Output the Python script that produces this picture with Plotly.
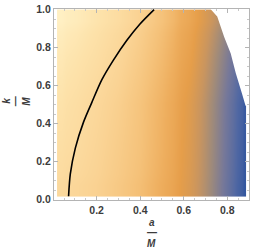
import plotly.graph_objects as go

# ---- density field (colour level, 1 = lightest, 0 = deep blue)
a_grid = [0.018, 0.1, 0.2, 0.3, 0.4, 0.5, 0.6, 0.65, 0.7, 0.75, 0.8, 0.85, 0.885]
k_grid = [0.018, 0.25, 0.5, 0.75, 1.0]
level_k000 = [0.84, 0.82, 0.79, 0.74, 0.68, 0.59, 0.49, 0.42, 0.34, 0.25, 0.16, 0.07, 0.00]
level_k025 = [0.87, 0.85, 0.81, 0.76, 0.70, 0.61, 0.50, 0.43, 0.35, 0.26, 0.17, 0.08, 0.01]
level_k050 = [0.90, 0.87, 0.83, 0.78, 0.71, 0.62, 0.51, 0.44, 0.36, 0.27, 0.18, 0.09, 0.02]
level_k075 = [0.94, 0.91, 0.87, 0.82, 0.75, 0.66, 0.55, 0.48, 0.40, 0.31, 0.22, 0.14, 0.08]
level_k100 = [0.99, 0.96, 0.91, 0.86, 0.79, 0.70, 0.59, 0.52, 0.45, 0.37, 0.28, 0.20, 0.15]

# ---- black curve
curve_a = [0.071, 0.079, 0.102, 0.140, 0.178, 0.224, 0.277, 0.338, 0.398, 0.464]
curve_k = [0.018, 0.135, 0.271, 0.409, 0.512, 0.631, 0.734, 0.837, 0.923, 1.0]

# ---- upper-right edge of the region
edge_a = [0.725, 0.754, 0.786, 0.816, 0.839, 0.854, 0.869, 0.884]
edge_k = [1.0, 0.964, 0.856, 0.769, 0.666, 0.614, 0.553, 0.494]

x_ticks = [0.2, 0.4, 0.6, 0.8]
y_ticks = [0.0, 0.2, 0.4, 0.6, 0.8, 1.0]

colorscale = [
    [0.00, "#34579f"],
    [0.10, "#5369a3"],
    [0.20, "#76789a"],
    [0.30, "#9e8a7c"],
    [0.40, "#c99560"],
    [0.50, "#e69e4a"],
    [0.60, "#eeae5e"],
    [0.70, "#f5c27a"],
    [0.80, "#fad394"],
    [0.90, "#fde2aa"],
    [1.00, "#fff1c6"],
]


def edges(v):
    return [v[0]] + [(v[i] + v[i + 1]) / 2 for i in range(len(v) - 1)] + [v[-1]]


z = [level_k000, level_k025, level_k050, level_k075, level_k100]

fig = go.Figure()
fig.add_trace(go.Heatmap(
    x=edges(a_grid), y=edges(k_grid), z=z,
    zmin=0, zmax=1, colorscale=colorscale, zsmooth="best",
    showscale=False, hoverinfo="skip",
))
fig.add_trace(go.Scatter(
    x=edge_a + [0.95, 0.95, edge_a[0]],
    y=edge_k + [edge_k[-1], 1.1, 1.1],
    mode="lines", fill="toself", fillcolor="white",
    line=dict(width=0, color="white"), hoverinfo="skip", showlegend=False,
))
fig.add_trace(go.Scatter(
    x=curve_a, y=curve_k, mode="lines",
    line=dict(color="black", width=1.6, shape="spline", smoothing=0.8),
    hoverinfo="skip", showlegend=False,
))

axis_common = dict(
    showgrid=False, zeroline=False, showline=True, linecolor="#b4b4b4", linewidth=1,
    mirror="ticks", ticks="inside", ticklen=4, tickcolor="#b4b4b4", tickwidth=1,
    minor=dict(dtick=0.05, ticks="inside", ticklen=2, tickcolor="#c8c8c8", tickwidth=1),
    tickfont=dict(family="Liberation Sans, Arial, sans-serif", size=10.5, color="#3c3c3c", weight="bold"),
    ticklabeloverflow="allow",
)

fig.update_xaxes(range=[0.004, 0.9], tickvals=x_ticks, ticktext=[f"{v:.1f}" for v in x_ticks],
                 **axis_common)
fig.update_yaxes(range=[-0.002, 1.003], tickvals=y_ticks, ticktext=[f"{v:.1f}" for v in y_ticks],
                 **axis_common)

lab_font = dict(family="Liberation Sans, Arial, sans-serif", size=10, color="#3c3c3c")
annots = []
# x-axis title a / M
for txt, dy in [("<b><i>a</i></b>", -22.5), ("<b>—</b>", -32.5), ("<b><i>M</i></b>", -43.5)]:
    annots.append(dict(text=txt, xref="paper", yref="paper", x=0.5, y=0, yshift=dy,
                       showarrow=False, font=lab_font, xanchor="center", yanchor="middle"))
# y-axis title k / M
for txt, dx in [("<b><i>k</i></b>", -47.5), ("<b>—</b>", -39.0), ("<b><i>M</i></b>", -27.5)]:
    annots.append(dict(text=txt, xref="paper", yref="paper", x=0, y=0.517, xshift=dx,
                       textangle=-90, showarrow=False, font=lab_font,
                       xanchor="center", yanchor="middle"))

fig.update_layout(
    width=253, height=250,
    margin=dict(l=54, r=3, t=5, b=50, pad=0),
    paper_bgcolor="white", plot_bgcolor="white",
    showlegend=False, annotations=annots,
)

fig.write_html("out.html", config={"displayModeBar": False},
               post_script="document.body.style.margin='0';document.body.style.padding='0';")
